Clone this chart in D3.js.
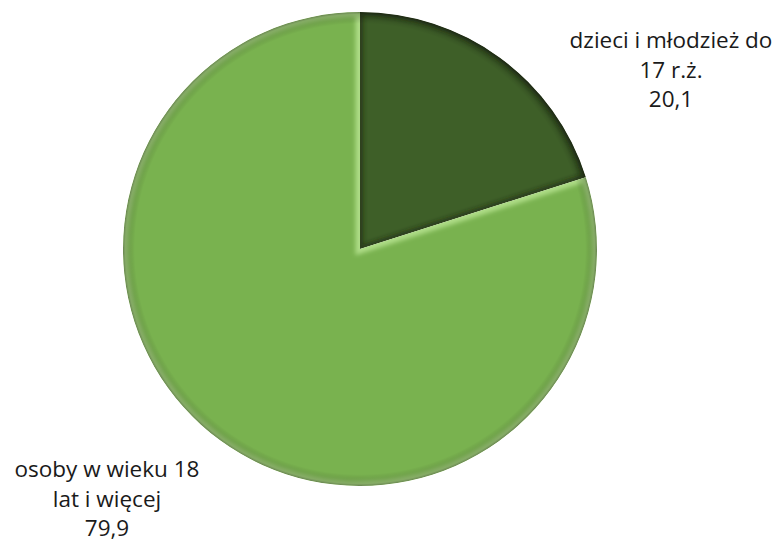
<!DOCTYPE html>
<html><head><meta charset="utf-8">
<script src="https://cdn.jsdelivr.net/npm/d3@7"></script>
<style>html,body{margin:0;padding:0;background:#fff;} svg{display:block;}</style>
</head><body>
<svg id="chart" width="777" height="544"></svg>
<script>
const categories = ["dzieci i młodzież do 17 r.ż.", "osoby w wieku 18 lat i więcej"];
const values = [20.1, 79.9];
const valueLabels = ["20,1", "79,9"];
const labelLines = [["dzieci i młodzież do", "17 r.ż."], ["osoby w wieku 18", "lat i więcej"]];
const colors = ["#3e5f28", "#79b24f"];

const svg = d3.select("#chart");
const W = 777, H = 544;
const cx = 360, cy = 249, R = 237;

const defs = svg.append("defs");
const rim = defs.append("radialGradient").attr("id", "rim")
  .attr("gradientUnits", "userSpaceOnUse").attr("cx", 0).attr("cy", 0).attr("r", R);
rim.append("stop").attr("offset", 0.95).attr("stop-color", "#000").attr("stop-opacity", 0);
rim.append("stop").attr("offset", 0.99).attr("stop-color", "#000").attr("stop-opacity", 0.2);
rim.append("stop").attr("offset", 1).attr("stop-color", "#000").attr("stop-opacity", 0.4);

const blur = defs.append("filter").attr("id", "blur").attr("x", "-20%").attr("y", "-20%").attr("width", "140%").attr("height", "140%");
blur.append("feGaussianBlur").attr("stdDeviation", 2.2);

const pie = d3.pie().sort(null).value(d => d)(values);
const arc = d3.arc().innerRadius(0).outerRadius(R);

const g = svg.append("g").attr("transform", `translate(${cx},${cy})`);

pie.forEach((p, i) => {
  defs.append("clipPath").attr("id", "clip" + i).append("path").attr("d", arc(p));
  const sg = g.append("g").attr("clip-path", `url(#clip${i})`);
  sg.append("path").attr("d", arc(p)).attr("fill", colors[i]);
  if (i === 0) {
    sg.append("path").attr("d", arc(p)).attr("fill", "none")
      .attr("stroke", "#1a2a10").attr("stroke-opacity", 0.6).attr("stroke-width", 7)
      .attr("filter", "url(#blur)");
  } else {
    sg.append("path").attr("d", arc(p)).attr("fill", "none")
      .attr("stroke", "#c4ee9e").attr("stroke-opacity", 0.7).attr("stroke-width", 9)
      .attr("filter", "url(#blur)");
  }
  sg.append("path").attr("d", arc(p)).attr("fill", "url(#rim)");
});

// Labels
const fontFamily = "'Open Sans', Lato, sans-serif";
const labelPos = [{x: 671, y: 48}, {x: 107, y: 477}];
const lh = 29.5;
labelLines.forEach((lines, i) => {
  const t = svg.append("text").attr("text-anchor", "middle")
    .attr("font-family", fontFamily).attr("font-size", 22.5).attr("fill", "#1a1a1a");
  lines.concat([valueLabels[i]]).forEach((s, j) => {
    t.append("tspan").attr("x", labelPos[i].x).attr("y", labelPos[i].y + j * lh).text(s);
  });
});
</script>
</body></html>
